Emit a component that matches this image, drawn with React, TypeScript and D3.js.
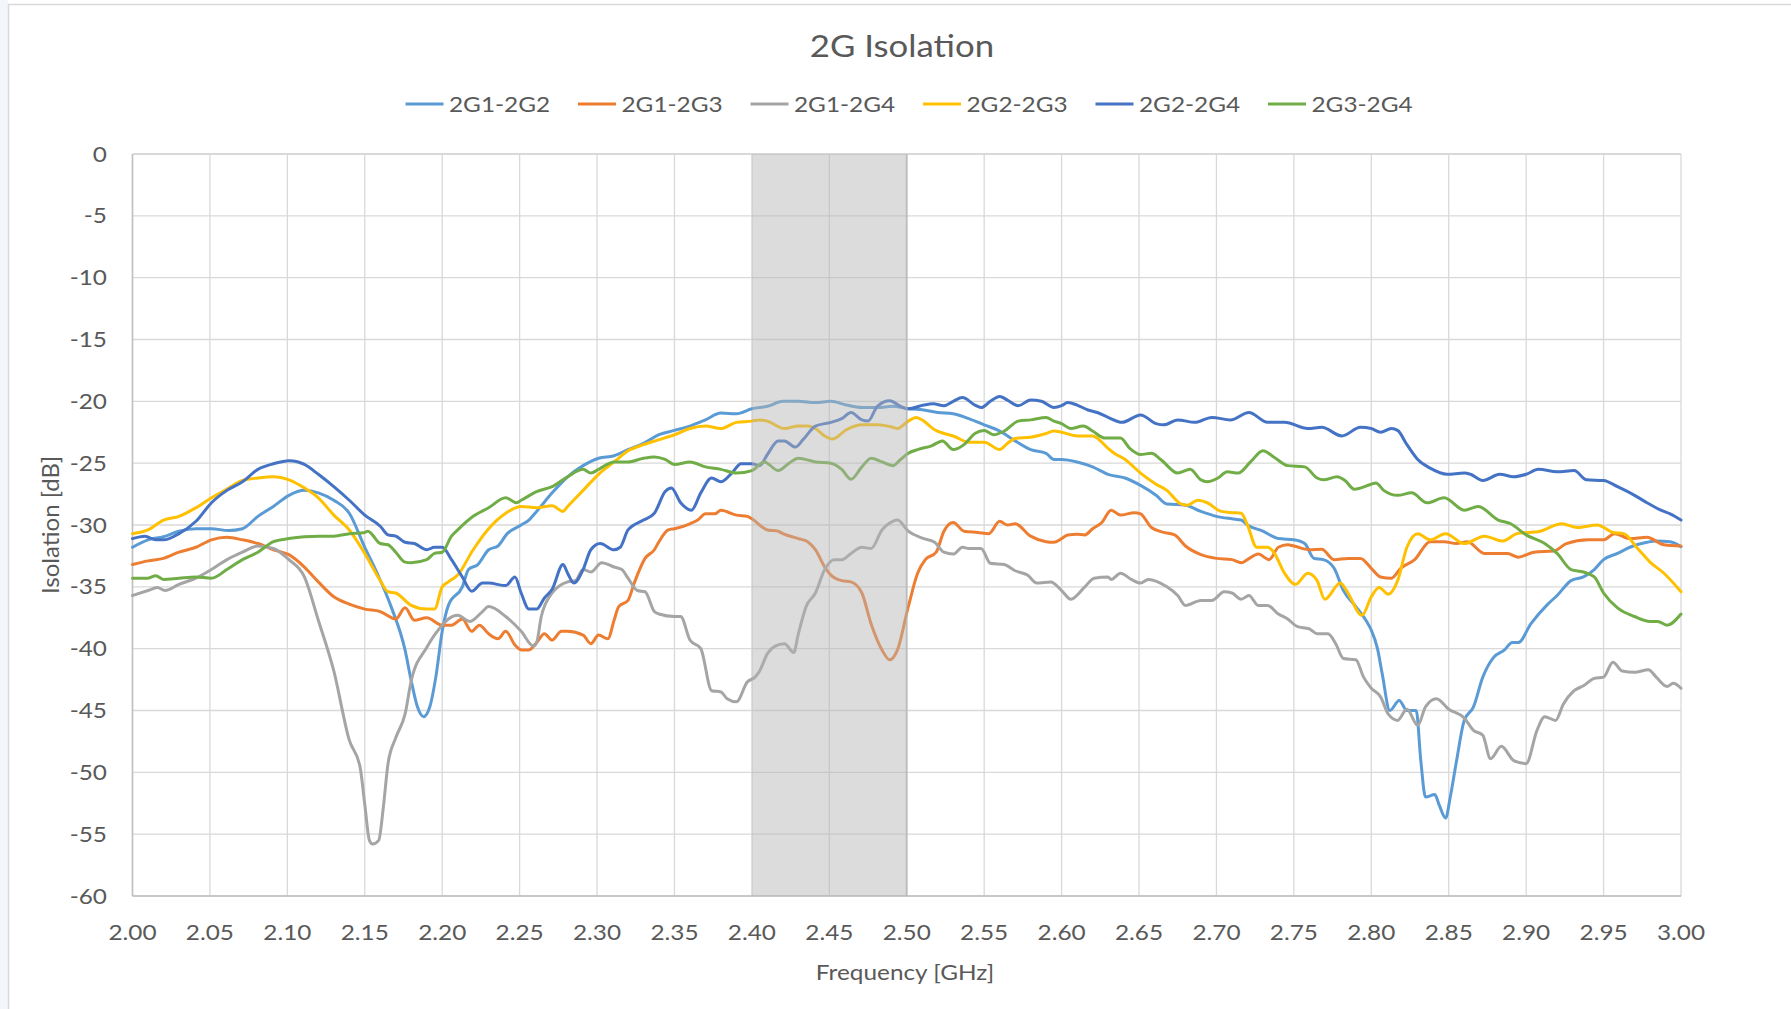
import React, { useMemo } from 'react';
import * as d3 from 'd3';

// [frequency GHz, isolation dB]
const s2G1_2G2: [number, number][] = [
  [2.0, -31.8], [2.01, -31.2], [2.02, -30.95], [2.03, -30.5], [2.041, -30.3], [2.051, -30.3], [2.062, -30.45], [2.071, -30.3],
  [2.081, -29.3], [2.091, -28.5], [2.101, -27.6], [2.111, -27.2], [2.12, -27.4], [2.13, -28.0], [2.14, -29.05], [2.15, -31.8],
  [2.158, -33.9], [2.167, -36.6], [2.176, -40.1], [2.18, -42.6], [2.184, -44.7], [2.188, -45.5], [2.192, -44.7], [2.196, -42.2],
  [2.2, -38.6], [2.204, -36.5], [2.213, -35.0], [2.217, -33.6], [2.223, -33.2], [2.23, -32.0], [2.236, -31.7], [2.242, -30.7],
  [2.251, -30.0], [2.256, -29.6], [2.261, -28.9], [2.271, -27.4], [2.281, -26.1], [2.291, -25.2], [2.301, -24.6], [2.311, -24.4],
  [2.32, -23.9], [2.33, -23.4], [2.34, -22.7], [2.35, -22.35], [2.36, -22.0], [2.37, -21.5], [2.38, -20.95], [2.39, -21.0],
  [2.4, -20.6], [2.41, -20.4], [2.42, -20.0], [2.43, -20.0], [2.441, -20.1], [2.451, -20.0], [2.461, -20.3], [2.471, -20.5],
  [2.481, -20.5], [2.491, -20.4], [2.501, -20.6], [2.511, -20.7], [2.52, -20.9], [2.53, -21.0], [2.54, -21.4], [2.55, -21.9],
  [2.56, -22.4], [2.57, -23.2], [2.58, -23.9], [2.59, -24.2], [2.595, -24.7], [2.6, -24.7], [2.61, -24.9], [2.62, -25.3],
  [2.63, -25.9], [2.641, -26.2], [2.651, -26.8], [2.661, -27.6], [2.668, -28.3], [2.68, -28.4], [2.69, -28.9], [2.7, -29.3],
  [2.71, -29.5], [2.716, -29.6], [2.72, -30.0], [2.73, -30.5], [2.74, -31.1], [2.75, -31.2], [2.757, -31.5], [2.763, -32.7],
  [2.769, -32.8], [2.776, -33.5], [2.782, -35.3], [2.79, -36.6], [2.797, -37.8], [2.8, -38.5], [2.804, -40.0], [2.807, -42.0],
  [2.812, -45.0], [2.818, -44.2], [2.823, -45.0], [2.829, -45.0], [2.832, -49.1], [2.835, -52.0], [2.841, -51.8], [2.844, -52.7],
  [2.848, -53.7], [2.851, -52.0], [2.855, -49.1], [2.86, -45.8], [2.866, -44.7], [2.872, -42.3], [2.879, -40.7], [2.886, -40.1],
  [2.891, -39.5], [2.895, -39.5], [2.903, -38.0], [2.914, -36.4], [2.92, -35.7], [2.929, -34.5], [2.937, -34.2], [2.944, -33.6],
  [2.95, -32.8], [2.959, -32.3], [2.967, -31.8], [2.978, -31.4], [2.984, -31.3], [2.993, -31.35], [3.0, -31.76],
];

const s2G1_2G3: [number, number][] = [
  [2.0, -33.2], [2.01, -32.9], [2.02, -32.7], [2.03, -32.2], [2.041, -31.8], [2.051, -31.2], [2.061, -31.0], [2.071, -31.2],
  [2.081, -31.5], [2.091, -32.0], [2.101, -32.4], [2.111, -33.4], [2.12, -34.6], [2.13, -35.8], [2.14, -36.4], [2.15, -36.8],
  [2.16, -37.0], [2.17, -37.6], [2.176, -36.7], [2.182, -37.7], [2.19, -37.5], [2.2, -38.1], [2.206, -38.1], [2.213, -37.6],
  [2.219, -38.6], [2.224, -38.1], [2.23, -38.8], [2.236, -39.2], [2.241, -38.6], [2.247, -39.7], [2.251, -40.1], [2.256, -40.1],
  [2.261, -39.5], [2.266, -38.8], [2.271, -39.3], [2.277, -38.6], [2.281, -38.6], [2.291, -38.9], [2.296, -39.6], [2.301, -38.9],
  [2.307, -39.2], [2.311, -37.7], [2.314, -36.6], [2.32, -36.1], [2.324, -34.7], [2.331, -32.7], [2.337, -32.0], [2.34, -31.35],
  [2.346, -30.4], [2.35, -30.3], [2.36, -29.9], [2.365, -29.6], [2.37, -29.1], [2.376, -29.1], [2.38, -28.8], [2.39, -29.2],
  [2.397, -29.3], [2.4, -29.5], [2.41, -30.4], [2.417, -30.5], [2.42, -30.7], [2.43, -31.1], [2.436, -31.35], [2.441, -32.0],
  [2.447, -33.4], [2.451, -34.05], [2.458, -34.5], [2.464, -34.6], [2.471, -35.5], [2.477, -38.0], [2.484, -40.1], [2.489, -40.9],
  [2.494, -40.1], [2.501, -36.6], [2.507, -33.9], [2.512, -32.8], [2.519, -32.2], [2.524, -30.5], [2.53, -29.8], [2.537, -30.5],
  [2.546, -30.6], [2.553, -30.7], [2.56, -29.7], [2.565, -30.0], [2.57, -29.9], [2.58, -30.9], [2.59, -31.35], [2.595, -31.4],
  [2.6, -31.1], [2.604, -30.8], [2.61, -30.75], [2.615, -30.8], [2.62, -30.3], [2.626, -29.8], [2.632, -28.8], [2.638, -29.2],
  [2.647, -29.0], [2.651, -29.1], [2.658, -30.2], [2.666, -30.6], [2.673, -30.8], [2.68, -31.7], [2.69, -32.4], [2.7, -32.7],
  [2.71, -32.8], [2.716, -33.05], [2.72, -32.8], [2.727, -32.35], [2.734, -32.8], [2.74, -31.8], [2.746, -31.6], [2.75, -31.7],
  [2.76, -32.0], [2.768, -31.97], [2.776, -32.8], [2.785, -32.7], [2.793, -32.7], [2.8, -33.5], [2.806, -34.2], [2.813, -34.3],
  [2.819, -33.5], [2.828, -32.8], [2.838, -31.35], [2.847, -31.35], [2.855, -31.5], [2.862, -31.35], [2.873, -32.3], [2.888, -32.3],
  [2.895, -32.6], [2.905, -32.2], [2.918, -32.1], [2.926, -31.5], [2.94, -31.2], [2.95, -31.2], [2.957, -30.7], [2.967, -31.1],
  [2.978, -31.0], [2.989, -31.6], [3.0, -31.7],
];

const s2G1_2G4: [number, number][] = [
  [2.0, -35.7], [2.01, -35.3], [2.016, -35.05], [2.021, -35.3], [2.03, -34.8], [2.041, -34.3], [2.051, -33.6], [2.061, -32.8],
  [2.071, -32.2], [2.081, -31.7], [2.091, -31.9], [2.101, -32.8], [2.111, -34.2], [2.12, -37.7], [2.13, -41.8], [2.14, -47.4],
  [2.147, -49.6], [2.15, -52.6], [2.153, -55.5], [2.155, -55.8], [2.159, -55.5], [2.162, -52.8], [2.165, -49.3], [2.17, -47.2],
  [2.176, -45.3], [2.18, -42.6], [2.19, -39.9], [2.2, -38.1], [2.204, -37.6], [2.21, -37.3], [2.218, -37.8], [2.226, -37.0],
  [2.23, -36.6], [2.241, -37.4], [2.251, -38.6], [2.259, -39.8], [2.261, -39.5], [2.264, -37.4], [2.271, -35.5], [2.281, -34.6],
  [2.286, -34.5], [2.291, -33.6], [2.296, -33.8], [2.303, -33.05], [2.311, -33.4], [2.316, -33.6], [2.32, -34.3], [2.326, -35.3],
  [2.331, -35.4], [2.337, -37.0], [2.34, -37.2], [2.35, -37.4], [2.354, -37.4], [2.36, -39.3], [2.367, -40.0], [2.374, -43.4],
  [2.38, -43.5], [2.384, -44.05], [2.39, -44.3], [2.397, -42.7], [2.402, -42.3], [2.405, -41.8], [2.41, -40.4], [2.415, -39.8],
  [2.421, -39.6], [2.427, -40.3], [2.43, -38.8], [2.435, -36.6], [2.441, -35.5], [2.447, -33.6], [2.453, -32.8], [2.458, -32.8],
  [2.464, -32.3], [2.471, -31.8], [2.477, -31.9], [2.484, -30.4], [2.491, -29.7], [2.494, -29.6], [2.501, -30.5], [2.511, -31.1],
  [2.518, -31.4], [2.524, -32.2], [2.53, -32.35], [2.536, -31.8], [2.54, -31.9], [2.548, -31.9], [2.554, -33.1], [2.563, -33.2],
  [2.57, -33.7], [2.578, -34.05], [2.584, -34.7], [2.593, -34.6], [2.6, -35.3], [2.606, -36.0], [2.615, -35.0], [2.621, -34.3],
  [2.63, -34.2], [2.632, -34.4], [2.638, -33.9], [2.645, -34.4], [2.651, -34.7], [2.656, -34.4], [2.668, -35.0], [2.675, -35.7],
  [2.68, -36.5], [2.69, -36.1], [2.697, -36.1], [2.705, -35.4], [2.71, -35.5], [2.716, -36.0], [2.721, -35.7], [2.727, -36.5],
  [2.733, -36.5], [2.74, -37.2], [2.746, -37.6], [2.752, -38.2], [2.76, -38.4], [2.765, -38.8], [2.772, -38.8], [2.777, -39.6],
  [2.782, -40.8], [2.79, -40.9], [2.795, -42.3], [2.8, -43.2], [2.806, -43.9], [2.811, -45.3], [2.817, -45.8], [2.823, -44.9],
  [2.83, -46.2], [2.835, -44.7], [2.842, -44.05], [2.85, -44.9], [2.86, -45.6], [2.866, -46.6], [2.872, -47.0], [2.877, -48.9],
  [2.884, -47.9], [2.892, -49.05], [2.9, -49.3], [2.907, -46.6], [2.912, -45.5], [2.919, -45.8], [2.924, -44.5], [2.931, -43.4],
  [2.937, -43.0], [2.944, -42.4], [2.95, -42.3], [2.956, -41.1], [2.962, -41.8], [2.97, -41.9], [2.979, -41.7], [2.984, -42.3],
  [2.991, -43.05], [2.995, -42.8], [3.0, -43.2],
];

const s2G2_2G3: [number, number][] = [
  [2.0, -30.7], [2.01, -30.4], [2.02, -29.6], [2.03, -29.3], [2.041, -28.6], [2.051, -27.8], [2.061, -27.1], [2.071, -26.4],
  [2.081, -26.2], [2.091, -26.1], [2.101, -26.35], [2.111, -27.0], [2.12, -27.8], [2.13, -29.2], [2.14, -30.4], [2.15, -32.3],
  [2.16, -34.5], [2.165, -35.4], [2.17, -35.5], [2.18, -36.5], [2.19, -36.8], [2.195, -36.8], [2.2, -35.0], [2.204, -34.6],
  [2.21, -34.05], [2.22, -32.0], [2.23, -30.3], [2.241, -29.05], [2.251, -28.5], [2.261, -28.6], [2.271, -28.45], [2.278, -28.9],
  [2.281, -28.5], [2.291, -27.2], [2.301, -25.9], [2.311, -24.9], [2.32, -24.0], [2.33, -23.5], [2.34, -23.1], [2.35, -22.7],
  [2.36, -22.2], [2.37, -22.0], [2.38, -22.2], [2.39, -21.7], [2.4, -21.6], [2.405, -21.5], [2.41, -21.6], [2.421, -22.2],
  [2.43, -22.0], [2.436, -22.0], [2.441, -22.2], [2.447, -22.8], [2.452, -23.05], [2.461, -22.3], [2.471, -21.9], [2.481, -21.9],
  [2.491, -22.1], [2.494, -22.2], [2.501, -21.6], [2.506, -21.3], [2.511, -21.6], [2.518, -22.3], [2.524, -22.6], [2.53, -22.8],
  [2.54, -23.3], [2.55, -23.3], [2.56, -23.9], [2.565, -23.4], [2.57, -23.0], [2.58, -22.9], [2.59, -22.6], [2.595, -22.4],
  [2.6, -22.5], [2.61, -22.8], [2.62, -22.8], [2.63, -23.8], [2.634, -24.2], [2.641, -24.7], [2.651, -25.8], [2.661, -26.7],
  [2.668, -27.2], [2.677, -28.3], [2.681, -28.4], [2.688, -28.0], [2.694, -28.2], [2.703, -28.9], [2.71, -29.0], [2.716, -29.05],
  [2.72, -30.0], [2.726, -31.8], [2.733, -31.8], [2.737, -32.2], [2.744, -33.9], [2.751, -34.8], [2.759, -33.9], [2.765, -34.5],
  [2.77, -36.0], [2.78, -34.7], [2.784, -35.3], [2.794, -37.3], [2.8, -35.8], [2.805, -35.05], [2.811, -35.6], [2.817, -34.5],
  [2.823, -31.8], [2.83, -30.7], [2.838, -31.2], [2.848, -30.7], [2.86, -31.5], [2.873, -30.9], [2.885, -31.3], [2.894, -30.7],
  [2.909, -30.5], [2.923, -29.9], [2.933, -30.2], [2.946, -30.0], [2.956, -30.6], [2.963, -30.7], [2.972, -31.9], [2.98, -33.0],
  [2.989, -33.9], [3.0, -35.4],
];

const s2G2_2G4: [number, number][] = [
  [2.0, -31.1], [2.008, -30.9], [2.015, -31.2], [2.02, -31.2], [2.03, -30.7], [2.041, -29.7], [2.051, -28.2], [2.061, -27.2],
  [2.071, -26.5], [2.081, -25.5], [2.091, -25.05], [2.101, -24.8], [2.107, -24.9], [2.111, -25.1], [2.12, -25.9], [2.13, -26.9],
  [2.14, -28.0], [2.15, -29.2], [2.16, -30.1], [2.165, -30.8], [2.17, -30.9], [2.176, -31.4], [2.182, -31.5], [2.19, -32.0],
  [2.195, -31.8], [2.2, -31.8], [2.206, -32.8], [2.213, -34.2], [2.219, -35.35], [2.226, -34.7], [2.23, -34.7], [2.241, -34.9],
  [2.247, -34.2], [2.251, -35.5], [2.256, -36.8], [2.261, -36.8], [2.266, -35.9], [2.271, -35.2], [2.278, -33.2], [2.281, -33.9],
  [2.285, -34.7], [2.291, -33.6], [2.296, -32.0], [2.302, -31.5], [2.311, -32.0], [2.315, -31.8], [2.32, -30.4], [2.33, -29.6],
  [2.337, -29.05], [2.344, -27.3], [2.348, -27.0], [2.354, -28.2], [2.361, -28.8], [2.367, -27.4], [2.374, -26.2], [2.38, -26.5],
  [2.387, -25.8], [2.393, -25.05], [2.4, -25.05], [2.405, -25.2], [2.41, -24.3], [2.417, -23.2], [2.421, -23.2], [2.428, -23.7],
  [2.433, -23.1], [2.441, -22.0], [2.451, -21.7], [2.458, -21.4], [2.464, -20.9], [2.471, -21.5], [2.475, -21.6], [2.481, -20.4],
  [2.489, -19.95], [2.496, -20.4], [2.501, -20.6], [2.511, -20.3], [2.517, -20.2], [2.524, -20.35], [2.53, -20.0], [2.536, -19.7],
  [2.544, -20.3], [2.548, -20.5], [2.554, -20.0], [2.56, -19.6], [2.565, -19.9], [2.572, -20.35], [2.58, -19.9], [2.587, -20.0],
  [2.595, -20.5], [2.6, -20.35], [2.604, -20.1], [2.61, -20.3], [2.617, -20.7], [2.623, -20.9], [2.63, -21.3], [2.639, -21.7],
  [2.651, -21.1], [2.661, -21.8], [2.666, -21.9], [2.675, -21.5], [2.686, -21.7], [2.697, -21.3], [2.709, -21.5], [2.721, -20.9],
  [2.733, -21.7], [2.744, -21.7], [2.759, -22.2], [2.768, -22.1], [2.781, -22.8], [2.793, -22.1], [2.8, -22.2], [2.806, -22.5],
  [2.813, -22.2], [2.817, -22.35], [2.823, -23.5], [2.83, -24.7], [2.838, -25.4], [2.849, -25.9], [2.86, -25.8], [2.864, -25.9],
  [2.872, -26.4], [2.883, -25.9], [2.892, -26.1], [2.9, -25.9], [2.908, -25.5], [2.92, -25.7], [2.931, -25.6], [2.939, -26.35],
  [2.95, -26.4], [2.959, -26.9], [2.97, -27.6], [2.978, -28.2], [2.987, -28.8], [2.993, -29.1], [3.0, -29.6],
];

const s2G3_2G4: [number, number][] = [
  [2.0, -34.3], [2.01, -34.3], [2.015, -34.1], [2.02, -34.4], [2.03, -34.3], [2.041, -34.2], [2.051, -34.3], [2.061, -33.6],
  [2.071, -32.8], [2.081, -32.2], [2.091, -31.35], [2.101, -31.1], [2.111, -30.95], [2.12, -30.9], [2.13, -30.9], [2.14, -30.7],
  [2.15, -30.6], [2.152, -30.5], [2.16, -31.5], [2.165, -31.6], [2.17, -32.2], [2.176, -33.0], [2.18, -33.05], [2.19, -32.8],
  [2.195, -32.3], [2.2, -32.2], [2.206, -30.9], [2.21, -30.4], [2.22, -29.3], [2.23, -28.6], [2.241, -27.8], [2.248, -28.2],
  [2.251, -28.0], [2.261, -27.3], [2.271, -26.9], [2.281, -26.1], [2.291, -25.5], [2.296, -25.8], [2.301, -25.5], [2.311, -24.9],
  [2.32, -24.9], [2.33, -24.6], [2.337, -24.5], [2.344, -24.7], [2.35, -25.1], [2.36, -24.9], [2.37, -25.3], [2.38, -25.5],
  [2.39, -25.8], [2.4, -25.6], [2.408, -24.9], [2.417, -25.6], [2.424, -25.0], [2.43, -24.6], [2.441, -24.9], [2.451, -25.0],
  [2.458, -25.5], [2.464, -26.3], [2.471, -25.3], [2.477, -24.6], [2.484, -24.9], [2.491, -25.2], [2.496, -24.7], [2.501, -24.2],
  [2.507, -23.9], [2.516, -23.6], [2.523, -23.2], [2.53, -23.9], [2.537, -23.5], [2.544, -22.6], [2.55, -22.35], [2.556, -22.7],
  [2.563, -22.4], [2.572, -21.6], [2.58, -21.5], [2.59, -21.3], [2.595, -21.6], [2.6, -21.8], [2.606, -22.2], [2.614, -22.0],
  [2.62, -22.4], [2.628, -22.97], [2.638, -22.97], [2.644, -23.8], [2.651, -24.3], [2.658, -24.2], [2.664, -24.7], [2.675, -25.8],
  [2.683, -25.5], [2.69, -26.35], [2.694, -26.5], [2.701, -26.2], [2.707, -25.7], [2.714, -25.8], [2.722, -24.9], [2.73, -24.0],
  [2.737, -24.5], [2.746, -25.2], [2.757, -25.3], [2.765, -26.2], [2.769, -26.35], [2.778, -26.1], [2.783, -26.4], [2.789, -27.1],
  [2.8, -26.7], [2.803, -26.6], [2.808, -27.2], [2.817, -27.6], [2.826, -27.4], [2.836, -28.2], [2.847, -27.8], [2.86, -28.8],
  [2.869, -28.5], [2.882, -29.6], [2.89, -29.9], [2.9, -30.8], [2.912, -31.5], [2.92, -32.3], [2.929, -33.6], [2.937, -33.8],
  [2.944, -34.2], [2.95, -35.5], [2.959, -36.7], [2.97, -37.4], [2.98, -37.8], [2.985, -37.8], [2.991, -38.1], [3.0, -37.2],
];

const seriesNames = ['2G1-2G2', '2G1-2G3', '2G1-2G4', '2G2-2G3', '2G2-2G4', '2G3-2G4'];
const seriesData = [s2G1_2G2, s2G1_2G3, s2G1_2G4, s2G2_2G3, s2G2_2G4, s2G3_2G4];
const colors = ['#5B9BD5', '#ED7D31', '#A5A5A5', '#FFC000', '#4472C4', '#70AD47'];

const xTicks = d3.range(0, 21).map(i => 2 + i * 0.05);
const yTicks = d3.range(0, -61, -5);
const band: [number, number] = [2.4, 2.5];

const W = 1791;
const H = 1009;
const plot = { left: 132.5, right: 1681, top: 154, bottom: 896 };
const FONT = 'Lato, "Open Sans", sans-serif';
const TEXT = '#595959';
const SX = 1.16; // horizontal stretch of the Excel text

// text helper, stretched along the reading direction
const SText: React.FC<{ x: number; y: number; size: number; anchor?: string; rotate?: number; sx?: number; children: React.ReactNode }> =
  ({ x, y, size, anchor = 'start', rotate = 0, sx = SX, children }) => (
    <text
      transform={`translate(${x},${y}) rotate(${rotate}) scale(${sx},1)`}
      textAnchor={anchor}
      fontFamily={FONT}
      fontSize={size}
      fill={TEXT}
    >
      {children}
    </text>
  );

export default function App() {
  const x = useMemo(() => d3.scaleLinear().domain([2, 3]).range([plot.left, plot.right]), []);
  const y = useMemo(() => d3.scaleLinear().domain([-60, 0]).range([plot.bottom, plot.top]), []);

  const line = d3.line<[number, number]>()
    .x(d => x(d[0]))
    .y(d => y(d[1]))
    .curve(d3.curveMonotoneX);

  const fmt = d3.format('.2f');

  return (
    <svg width={W} height={H} style={{ position: 'absolute', left: 0, top: 0, background: '#fff' }}>
      <rect x={0} y={0} width={W} height={H} fill="#fff" />
      <rect x={0} y={0} width={8} height={H} fill="#f3f6fa" />
      <rect x={8.5} y={4.5} width={W} height={H} fill="#fff" stroke="#d9d9d9" strokeWidth={1.5} />

      {/* title */}
      <SText x={902} y={56.5} size={30} anchor="middle">2G Isolation</SText>

      {/* legend */}
      {seriesNames.map((name, i) => (
        <g key={name}>
          <line x1={405.5 + i * 172.5} x2={443.5 + i * 172.5} y1={104} y2={104} stroke={colors[i]} strokeWidth={3} />
          <SText x={449 + i * 172.5} y={111.5} size={21}>{name}</SText>
        </g>
      ))}

      {/* grid */}
      {yTicks.map(t => (
        <line key={'gy' + t} x1={plot.left} x2={plot.right} y1={y(t)} y2={y(t)}
          stroke={t === 0 ? '#cccccc' : '#d9d9d9'} strokeWidth={1.3} />
      ))}
      {xTicks.map(t => (
        <line key={'gx' + t} x1={x(t)} x2={x(t)} y1={plot.top} y2={plot.bottom} stroke="#d9d9d9" strokeWidth={1.3} />
      ))}
      <line x1={plot.left} x2={plot.left} y1={plot.top} y2={plot.bottom} stroke="#bfbfbf" strokeWidth={1.5} />
      <line x1={plot.left} x2={plot.right} y1={plot.bottom} y2={plot.bottom} stroke="#bfbfbf" strokeWidth={1.5} />

      {/* series */}
      {seriesData.map((data, i) => (
        <path key={seriesNames[i]} d={line(data) || ''} fill="none" stroke={colors[i]}
          strokeWidth={3} strokeLinejoin="round" strokeLinecap="round" />
      ))}

      {/* shaded 2.4 - 2.5 GHz band over the lines */}
      <rect x={x(band[0])} y={plot.top} width={x(band[1]) - x(band[0])} height={plot.bottom - plot.top}
        fill="rgb(180,180,180)" fillOpacity={0.47} />
      <line x1={x(band[1])} x2={x(band[1])} y1={plot.top} y2={plot.bottom} stroke="#b0b0b0" strokeOpacity={0.6} strokeWidth={2} />

      {/* y tick labels */}
      {yTicks.map(t => (
        <SText key={'ly' + t} x={107} y={y(t) + 7.5} size={21} anchor="end">{String(t)}</SText>
      ))}
      {/* x tick labels */}
      {xTicks.map(t => (
        <SText key={'lx' + t} x={x(t)} y={940} size={21} anchor="middle">{fmt(t)}</SText>
      ))}

      {/* axis titles */}
      <SText x={905} y={980} size={21} anchor="middle">Frequency [GHz]</SText>
      <SText x={59} y={525} size={24} anchor="middle" rotate={-90} sx={1.0}>Isolation [dB]</SText>
    </svg>
  );
}
